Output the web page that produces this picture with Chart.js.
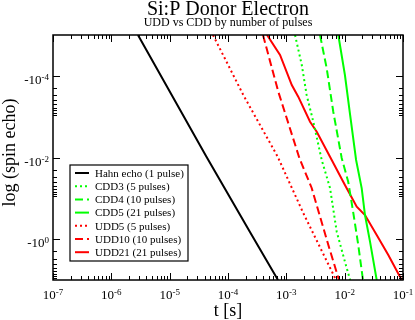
<!DOCTYPE html>
<html>
<head>
<meta charset="utf-8">
<script src="https://cdn.jsdelivr.net/npm/chart.js"></script>
<style>
  html, body { margin: 0; padding: 0; background: #ffffff; }
  #wrap { width: 415px; height: 320px; }
</style>
</head>
<body>
<div id="wrap"><canvas id="echoChart" width="415" height="320"></canvas></div>
<script>
// axis ranges (t in seconds, y = |log(spin echo)|, drawn as -10^n)
var xMin = 1e-7, xMax = 1e-1;
var yMin = 1e-5, yMax = 1e1;

var xTickExps = [-7, -6, -5, -4, -3, -2, -1];
var yTickExps = [-4, -2, 0];

var seriesNames = [
    'Hahn echo (1 pulse)',
    'CDD3 (5 pulses)',
    'CDD4 (10 pulses)',
    'CDD5 (21 pulses)',
    'UDD5 (5 pulses)',
    'UDD10 (10 pulses)',
    'UDD21 (21 pulses)'
];

// values
var hahnT = [2.86e-6, 4.20e-5, 2.38e-4, 7.19e-4];
var hahnEcho = [1e-5, 9.2e-3, 0.668, 10];

var cdd3T = [1.41e-3, 1.84e-3, 2.23e-3, 2.90e-3, 4.04e-3, 5.61e-3, 7.31e-3, 1.01e-2, 1.24e-2];
var cdd3Echo = [1e-5, 5.43e-5, 2.95e-4, 1.33e-3, 1.15e-2, 5.58e-2, 0.656, 3.56, 10];

var cdd4T = [3.78e-3, 4.92e-3, 6.38e-3, 8.89e-3, 1.15e-2, 1.41e-2, 1.71e-2, 2.06e-2];
var cdd4Echo = [1e-5, 6.55e-5, 7.57e-4, 1.03e-2, 3.92e-2, 0.233, 1.39, 10];

var cdd5T = [7.78e-3, 1.01e-2, 1.24e-2, 1.57e-2, 1.96e-2, 2.23e-2, 2.72e-2, 3.54e-2];
var cdd5Echo = [1e-5, 9.55e-5, 9.10e-4, 1.15e-2, 5.69e-2, 0.256, 1.15, 10];

var udd5T = [5.53e-5, 1.83e-4, 7.11e-4, 1.95e-3, 7.11e-3];
var udd5Echo = [1e-5, 2.95e-4, 9.57e-3, 0.229, 10];

var udd10T = [3.98e-4, 7.28e-4, 1.68e-3, 2.72e-3, 5.25e-3, 8.0e-3];
var udd10Echo = [1e-5, 2.45e-4, 1.05e-2, 5.58e-2, 1.39, 10];

var udd21T = [4.67e-4, 7.80e-4, 1.24e-3, 1.60e-3, 2.55e-3, 3.32e-3, 6.00e-3, 1.01e-2, 1.61e-2, 2.23e-2, 3.54e-2, 5.60e-2, 9.50e-2];
var udd21Echo = [1e-5, 3.09e-5, 1.68e-4, 3.24e-4, 1.33e-3, 2.33e-3, 1.15e-2, 4.72e-2, 0.160, 0.256, 0.791, 2.44, 10];

var serif = "'Liberation Serif', 'DejaVu Serif', serif";
var RED = '#ff0000', GREEN = '#00ff00';

function pts(ts, ys) {
    return ts.map(function(t, i) { return { x: t, y: ys[i] }; });
}

function series(label, ts, ys, color, dash) {
    return {
        label: label,
        data: pts(ts, ys),
        borderColor: color,
        borderWidth: 2,
        borderDash: dash,
        pointRadius: 0,
        tension: 0,
        fill: false,
        clip: 0
    };
}

// text with a superscript, e.g. 10^-7
function supText(ctx, base, exp, x, y, align, size) {
    ctx.font = size + 'px ' + serif;
    var wb = ctx.measureText(base).width;
    ctx.font = Math.round(size * 0.7) + 'px ' + serif;
    var we = ctx.measureText(exp).width;
    var left = align === 'right' ? x - wb - we : x - (wb + we) / 2;
    ctx.textAlign = 'left';
    ctx.textBaseline = 'alphabetic';
    ctx.font = size + 'px ' + serif;
    ctx.fillText(base, left, y);
    ctx.font = Math.round(size * 0.7) + 'px ' + serif;
    ctx.fillText(exp, left + wb, y - 4);
}

var gracePlot = {
    id: 'gracePlot',
    afterDraw: function(chart) {
        var ctx = chart.ctx;
        var a = chart.chartArea;
        var xs = chart.scales.x, ys = chart.scales.y;
        ctx.save();
        ctx.fillStyle = '#000';
        ctx.strokeStyle = '#000';

        // legend box
        var lx = 70, ly = 165, lw = 118, lh = 96;
        ctx.fillStyle = '#fff';
        ctx.fillRect(lx, ly, lw, lh);
        ctx.lineWidth = 1.2;
        ctx.strokeRect(lx, ly, lw, lh);
        chart.data.datasets.forEach(function(ds, i) {
            var ry = 173 + i * 13.2;
            ctx.save();
            ctx.strokeStyle = ds.borderColor;
            ctx.lineWidth = 2;
            ctx.setLineDash(ds.borderDash);
            ctx.beginPath();
            ctx.moveTo(75, ry);
            ctx.lineTo(89, ry);
            ctx.stroke();
            ctx.restore();
            ctx.fillStyle = '#000';
            ctx.font = '11px ' + serif;
            ctx.textAlign = 'left';
            ctx.textBaseline = 'middle';
            ctx.fillText(ds.label, 95, ry + 1);
        });

        // frame
        ctx.lineWidth = 1.5;
        ctx.strokeRect(a.left, a.top, a.right - a.left, a.bottom - a.top);

        // x ticks, inward on bottom and top
        ctx.lineWidth = 1;
        ctx.beginPath();
        xTickExps.forEach(function(e) {
            for (var m = 1; m <= 9; m++) {
                var v = m * Math.pow(10, e);
                if (v > xMax * 1.0001) continue;
                var px = Math.round(xs.getPixelForValue(v)) + 0.5;
                var len = m === 1 ? 7 : 4;
                ctx.moveTo(px, a.bottom); ctx.lineTo(px, a.bottom - len);
                ctx.moveTo(px, a.top); ctx.lineTo(px, a.top + len);
            }
        });
        // y ticks, inward on left and right
        yTickExps.forEach(function(e) {
            for (var m = 1; m <= 9; m++) {
                var v = m * Math.pow(10, e);
                if (v > yMax) continue;
                var py = Math.round(ys.getPixelForValue(v)) + 0.5;
                var len = m === 1 ? 7 : 4;
                ctx.moveTo(a.left, py); ctx.lineTo(a.left + len, py);
                ctx.moveTo(a.right, py); ctx.lineTo(a.right - len, py);
            }
        });
        ctx.stroke();

        // tick labels
        ctx.fillStyle = '#000';
        xTickExps.forEach(function(e) {
            supText(ctx, '10', '-' + Math.abs(e), xs.getPixelForValue(Math.pow(10, e)), 299, 'center', 13);
        });
        yTickExps.forEach(function(e) {
            var py = ys.getPixelForValue(Math.pow(10, e));
            supText(ctx, '-10', (e < 0 ? '-' : '') + Math.abs(e), 49, py + 8, 'right', 13);
        });

        // titles
        var cx = (a.left + a.right) / 2;
        ctx.textAlign = 'center';
        ctx.textBaseline = 'alphabetic';
        ctx.font = '20px ' + serif;
        ctx.fillText('Si:P Donor Electron', cx, 15);
        ctx.font = '12px ' + serif;
        ctx.fillText('UDD vs CDD by number of pulses', cx, 26);
        ctx.font = '18px ' + serif;
        ctx.fillText('t [s]', cx, 316);
        ctx.save();
        ctx.translate(15, (a.top + a.bottom) / 2 - 5);
        ctx.rotate(-Math.PI / 2);
        ctx.fillText('log (spin echo)', 0, 0);
        ctx.restore();

        ctx.restore();
    }
};

document.addEventListener('DOMContentLoaded', function() {
    var ctx = document.getElementById('echoChart').getContext('2d');

    var echoChart = new Chart(ctx, {
        type: 'line',
        data: {
            datasets: [
                series(seriesNames[0], hahnT, hahnEcho, '#000000', []),
                series(seriesNames[1], cdd3T, cdd3Echo, GREEN, [2, 3]),
                series(seriesNames[2], cdd4T, cdd4Echo, GREEN, [8, 4]),
                series(seriesNames[3], cdd5T, cdd5Echo, GREEN, []),
                series(seriesNames[4], udd5T, udd5Echo, RED, [2, 3]),
                series(seriesNames[5], udd10T, udd10Echo, RED, [8, 4]),
                series(seriesNames[6], udd21T, udd21Echo, RED, [])
            ]
        },
        options: {
            responsive: false,
            animation: false,
            devicePixelRatio: 1,
            layout: { padding: { left: 53, top: 35, right: 12, bottom: 40 } },
            scales: {
                x: { type: 'logarithmic', min: xMin, max: xMax, display: false },
                y: { type: 'logarithmic', min: yMin, max: yMax, reverse: true, display: false }
            },
            plugins: {
                legend: { display: false },
                tooltip: { enabled: false }
            }
        },
        plugins: [gracePlot]
    });
});
</script>
</body>
</html>
